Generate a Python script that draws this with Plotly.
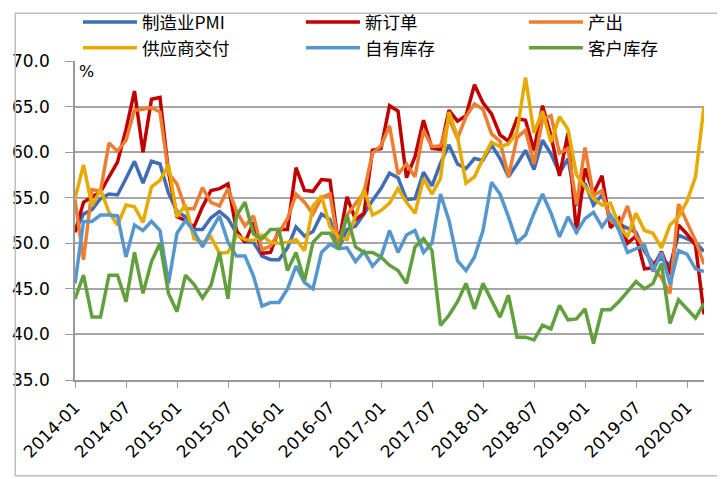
import pandas as pd
import plotly.graph_objects as go

# Months 2014-01 .. 2020-03
months = pd.date_range('2014-01-01', periods=75, freq='MS').strftime('%Y-%m').tolist()
tick_months = months[::6]

pmi = [51.3, 53.2, 53.7, 54.9, 55.4, 55.3, 57.1, 59.0, 56.6, 59.0, 58.7, 55.5,
       53.5, 52.9, 51.5, 51.5, 52.8, 53.5, 52.7, 51.1, 50.2, 50.1, 48.6, 48.2,
       48.2, 49.5, 51.8, 50.8, 51.3, 53.2, 52.6, 49.4, 51.5, 51.9, 53.2, 54.7,
       56.0, 57.7, 57.2, 54.8, 54.9, 57.8, 56.3, 58.8, 60.8, 58.7, 58.2, 59.3,
       59.1, 60.8, 59.3, 57.3, 58.7, 60.2, 58.1, 61.3, 59.8, 57.7, 59.3, 54.1,
       56.6, 54.2, 55.3, 52.8, 52.1, 51.7, 51.2, 49.1, 47.8, 48.3, 47.6, 50.9,
       50.5, 50.1, 49.1]
new_orders = [51.2, 54.5, 55.1, 55.6, 57.3, 58.9, 62.5, 66.7, 60.0, 65.8, 66.0, 57.8,
              52.9, 52.5, 51.8, 54.0, 55.8, 56.0, 56.5, 51.4, 50.1, 52.3, 48.9, 49.0,
              51.5, 51.5, 58.3, 55.8, 55.7, 57.0, 56.9, 49.8, 55.1, 52.6, 53.3, 60.2,
              60.4, 65.1, 64.5, 57.2, 59.5, 63.5, 60.4, 60.3, 64.6, 63.4, 64.0, 67.4,
              65.4, 64.2, 61.9, 61.2, 63.7, 63.5, 60.2, 65.1, 61.8, 57.4, 62.1, 51.1,
              58.2, 55.5, 57.4, 51.7, 52.7, 50.0, 50.8, 47.2, 47.3, 49.1, 46.6, 52.0,
              51.0, 49.8, 42.2]
production = [54.8, 48.2, 55.9, 55.7, 61.0, 60.1, 61.3, 64.6, 64.7, 64.9, 64.4, 57.7,
              56.5, 53.8, 53.8, 56.1, 54.5, 54.1, 56.0, 53.5, 51.9, 53.0, 49.3, 49.7,
              51.2, 52.7, 55.4, 54.5, 53.2, 55.0, 55.4, 49.8, 53.1, 54.4, 55.6, 59.9,
              60.7, 62.9, 57.6, 58.7, 57.3, 62.4, 60.6, 60.7, 63.7, 61.5, 63.9, 65.3,
              64.7, 62.0, 61.2, 57.3, 61.6, 62.4, 58.7, 63.6, 64.0, 59.9, 60.4, 54.2,
              60.5, 55.2, 55.8, 52.5, 51.8, 54.1, 50.8, 49.5, 47.3, 46.2, 44.5, 54.3,
              52.3, 50.3, 47.7]
supplier = [54.9, 58.6, 54.1, 55.9, 53.4, 52.0, 54.2, 54.0, 52.3, 56.2, 56.9, 58.6,
            52.9, 54.2, 50.5, 50.1, 50.7, 48.9, 49.0, 50.9, 50.4, 50.3, 50.9, 50.1,
            50.0, 50.1, 50.4, 49.2, 54.1, 55.2, 51.8, 50.7, 50.4, 53.0, 55.9, 53.1,
            53.6, 54.4, 56.0, 54.5, 53.3, 57.1, 55.4, 57.1, 64.4, 61.7, 56.6, 57.3,
            59.3, 61.1, 60.6, 60.9, 62.2, 68.2, 62.1, 64.5, 61.1, 63.9, 62.5, 57.5,
            56.2, 54.9, 54.2, 54.4, 52.0, 50.7, 53.3, 51.4, 51.1, 49.5, 52.0, 52.9,
            54.6, 57.3, 65.0]
inventories = [45.6, 52.4, 52.4, 53.1, 53.1, 53.0, 48.5, 52.0, 51.4, 52.4, 51.4, 45.6,
               51.1, 52.5, 51.3, 49.6, 51.4, 53.0, 50.1, 48.6, 48.6, 46.4, 43.1, 43.5,
               43.5, 45.0, 47.5, 45.7, 45.0, 49.0, 49.9, 49.4, 49.5, 48.0, 49.1, 47.5,
               48.5, 51.4, 49.0, 50.9, 51.4, 49.0, 50.0, 55.4, 52.5, 48.1, 47.0, 48.5,
               51.4, 56.7, 55.4, 52.9, 50.1, 50.9, 53.3, 55.4, 53.3, 50.7, 52.9, 51.2,
               52.7, 53.4, 51.8, 53.1, 51.4, 49.0, 49.4, 49.8, 46.9, 49.0, 45.5, 49.2,
               48.8, 47.2, 46.9]
customer_inv = [43.9, 46.5, 41.9, 41.9, 46.5, 46.5, 43.6, 49.0, 44.5, 48.0, 50.0, 44.5,
                42.5, 46.5, 45.5, 44.0, 45.4, 49.0, 43.9, 53.0, 54.5, 51.0, 50.5, 51.5,
                51.5, 47.0, 49.0, 45.9, 50.1, 51.1, 51.1, 49.4, 53.1, 49.6, 49.0, 49.0,
                48.5, 47.6, 47.0, 45.6, 49.6, 50.5, 49.2, 41.0, 42.1, 43.6, 45.6, 42.8,
                45.6, 43.7, 41.9, 44.3, 39.7, 39.7, 39.4, 41.0, 40.6, 43.2, 41.6, 41.7,
                42.8, 39.0, 42.7, 42.7, 43.6, 44.7, 45.8, 45.0, 45.6, 47.8, 41.2, 43.8,
                42.8, 41.8, 43.4]

series = [
    ('制造业PMI', pmi, '#3E6DB5'),
    ('新订单', new_orders, '#C00000'),
    ('产出', production, '#ED7D31'),
    ('供应商交付', supplier, '#E6AA00'),
    ('自有库存', inventories, '#5596CF'),
    ('客户库存', customer_inv, '#62A03E'),
]

fig = go.Figure()
for name, vals, color in series:  # later series drawn on top
    fig.add_trace(go.Scatter(x=months, y=vals, name=name, mode='lines',
                             line=dict(color=color, width=3.5)))

# page body has an 8px margin, so the figure is 8px smaller than the window
fig.update_layout(
    width=717, height=471,
    margin=dict(l=67, r=21, t=53, b=99, autoexpand=False),
    plot_bgcolor='white', paper_bgcolor='white',
    font=dict(family='DejaVu Sans', size=15, color='black'),
    showlegend=True,
    legend=dict(orientation='h', x=-0.0001, xanchor='left', y=1.178, yanchor='top',
                entrywidth=151, entrywidthmode='pixels', itemwidth=54, indentation=3,
                font=dict(family='Noto Sans CJK SC', size=17.5, color='black'),
                bgcolor='rgba(0,0,0,0)', traceorder='normal'),
    xaxis=dict(type='category', range=[0, 74], tickmode='array',
               tickvals=tick_months, ticktext=tick_months, tickangle=-45,
               ticks='outside', ticklen=6, tickcolor='#999999',
               ticklabelstandoff=3,
               showline=True, linecolor='#999999', linewidth=1.5,
               showgrid=False, tickfont=dict(size=17)),
    yaxis=dict(range=[35, 70], dtick=5, tickformat='.1f',
               ticks='outside', ticklen=8, tickcolor='#999999',
               ticklabelstandoff=12,
               showline=True, linecolor='#999999', linewidth=1.5,
               showgrid=True, gridcolor='#A6A6A6', gridwidth=1.5,
               zeroline=False, tickfont=dict(size=17)),
    annotations=[dict(text='%', x=0, y=1, xref='paper', yref='paper',
                      xanchor='left', yanchor='top', xshift=2, yshift=1,
                      showarrow=False, font=dict(size=16))],
    shapes=[dict(type='rect', xref='paper', yref='paper',
                 x0=-0.095, x1=1.025, y0=-0.30, y1=1.15,
                 line=dict(color='#BFBFBF', width=1.5))],
)

fig.write_html("out.html")
